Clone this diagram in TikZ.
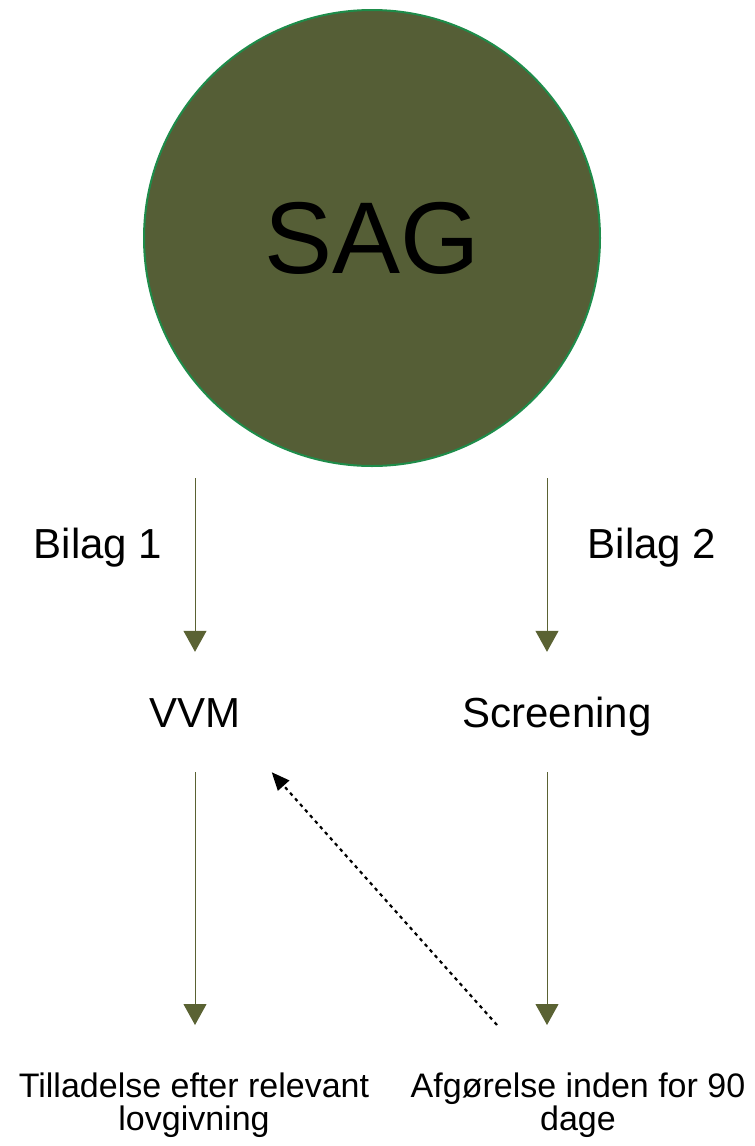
\documentclass[tikz,border=0pt]{standalone}
\usepackage{fontspec}
\setmainfont{Liberation Sans}
\usetikzlibrary{arrows.meta}

\definecolor{sagfill}{HTML}{555E36}
\definecolor{sagedge}{HTML}{1E8C4A}
\definecolor{flowcol}{HTML}{5A6233}

\begin{document}
\begin{tikzpicture}[x=1pt, y=-1pt,
sag/.style={circle, fill=sagfill, draw=sagedge, line width=2pt,
minimum size=456pt, inner sep=0pt, font=\fontsize{102}{110}\selectfont},
label-text/.style={inner sep=0pt, font=\fontsize{42}{48}\selectfont},
block-mid/.style={label-text, text height=30pt, text depth=0pt,
inner xsep=0pt, inner ysep=45pt},
block-end/.style={inner xsep=0pt, inner ysep=48pt, align=center,
font=\fontsize{34}{33}\selectfont},
line/.style={draw=flowcol, line width=1pt, -{Triangle[width=23pt,length=21pt]}},
line-back/.style={draw=black, line width=2.2pt, dash pattern=on 3.5pt off 4pt,
-{Triangle[width=15pt,length=18pt]}}
]
\useasboundingbox (0,0) rectangle (755,1146);

\node [sag] (sag) at (372,238) {SAG};

\coordinate (start-1) at (195,478);
\coordinate (start-2) at (547,478);
\node [label-text, anchor=base] (bilag-1) at (98,558) {Bilag 1};
\node [label-text, anchor=base] (bilag-2) at (652,558) {Bilag 2};

\node [block-mid, anchor=base] (vvm) at (195,727) {VVM};
\node [block-mid, anchor=base] (screening) at (557,727) {Screening};

\node [block-end, anchor=north] (tilladelse) at (194,1025)
  {Tilladelse efter relevant\\lovgivning};
\node [block-end, anchor=north] (afgoerelse) at (578,1025)
  {Afgørelse inden for 90\\dage};

\path [line] (start-1) -- (start-1 |- vvm.north);
\path [line] (start-2) -- (start-2 |- screening.north);
\path [line] (start-1 |- vvm.south) -- (start-1 |- tilladelse.north);
\path [line] (start-2 |- screening.south) -- (start-2 |- afgoerelse.north);

\path [line-back] ([xshift=-81pt]afgoerelse.north) -- ([xshift=31pt]vvm.south east);

\end{tikzpicture}
\end{document}
